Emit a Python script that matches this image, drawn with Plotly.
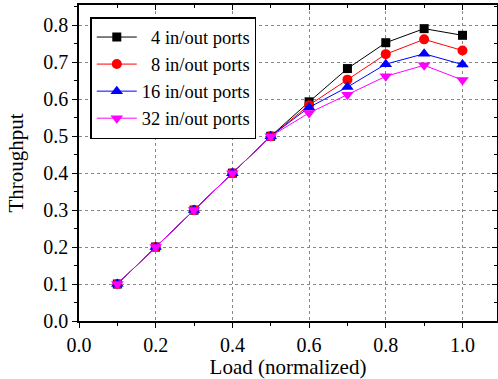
import plotly.graph_objects as go

load = [0.1, 0.2, 0.3, 0.4, 0.5, 0.6, 0.7, 0.8, 0.9, 1.0]
ports4 = [0.1, 0.2, 0.3, 0.4, 0.5, 0.593, 0.683, 0.753, 0.791, 0.773]
ports8 = [0.1, 0.2, 0.3, 0.4, 0.5, 0.584, 0.653, 0.722, 0.762, 0.732]
ports16 = [0.1, 0.2, 0.3, 0.4, 0.5, 0.578, 0.633, 0.695, 0.723, 0.694]
ports32 = [0.1, 0.2, 0.3, 0.4, 0.5, 0.563, 0.612, 0.662, 0.692, 0.652]
names = ["\u20024 in/out ports", "\u20028 in/out ports", "16 in/out ports", "32 in/out ports"]

series = [ports4, ports8, ports16, ports32]
colors = ["#000000", "#ff0000", "#0000ff", "#ff00ff"]
symbols = ["square", "circle", "triangle-up", "triangle-down"]
sizes = [9, 10, 11, 11]

FONT = "Liberation Serif, Times New Roman, serif"
fig = go.Figure()
for vals, nm, c, s, sz in zip(series, names, colors, symbols, sizes):
    fig.add_trace(go.Scatter(x=load, y=vals, name=nm, mode="lines+markers",
                             line=dict(color=c, width=1),
                             marker=dict(color=c, symbol=s, size=sz, line=dict(width=0))))

# invisible trace to host top/right mirrored axes
fig.add_trace(go.Scatter(x=[0.1], y=[0.1], xaxis="x2", yaxis="y2", mode="markers",
                         marker=dict(opacity=0), showlegend=False, hoverinfo="skip"))

XR = [0, 1.09]
YR = [0, 0.855]
fig.update_layout(
    template="none",
    width=498, height=379,
    margin=dict(l=79, r=1, t=5, b=58, autoexpand=False),
    paper_bgcolor="white", plot_bgcolor="white",
    font=dict(family=FONT, size=20, color="black"),
    showlegend=True,
    legend=dict(x=0.027, y=0.962, xanchor="left", yanchor="top",
                bordercolor="black", borderwidth=1.5, bgcolor="white",
                font=dict(family=FONT, size=18.5, color="black"), tracegroupgap=0,
                itemwidth=40),
    xaxis=dict(range=XR, dtick=0.2, tick0=0, tickformat=".1f", automargin=False,
               showline=True, linecolor="black", linewidth=1.5,
               ticks="outside", ticklen=5, tickcolor="black",
               tickfont=dict(family=FONT, size=20, color="black"),
               minor=dict(dtick=0.1, ticks="outside", ticklen=3, tickcolor="black"),
               showgrid=True, gridcolor="#888888", griddash="dot", gridwidth=1,
               zeroline=False,
               title=dict(text="Load (normalized)", font=dict(family=FONT, size=21, color="black"), standoff=5)),
    yaxis=dict(range=YR, dtick=0.1, tick0=0, tickformat=".1f", automargin=False,
               showline=True, linecolor="black", linewidth=1.5,
               ticks="outside", ticklen=5, tickcolor="black",
               tickfont=dict(family=FONT, size=20, color="black"),
               minor=dict(dtick=0.05, ticks="outside", ticklen=3, tickcolor="black"),
               showgrid=True, gridcolor="#888888", griddash="dot", gridwidth=1,
               zeroline=False,
               title=dict(text="Throughput", font=dict(family=FONT, size=21, color="black"), standoff=14)),
    xaxis2=dict(range=XR, overlaying="x", side="top", dtick=0.2, tick0=0, automargin=False,
                showline=True, linecolor="black", linewidth=1.5,
                ticks="inside", ticklen=5, tickcolor="black",
                minor=dict(dtick=0.1, ticks="inside", ticklen=3, tickcolor="black"),
                showticklabels=False, showgrid=False, zeroline=False),
    yaxis2=dict(range=YR, overlaying="y", side="right", dtick=0.1, tick0=0, automargin=False,
                showline=True, linecolor="black", linewidth=1.5,
                ticks="inside", ticklen=5, tickcolor="black",
                minor=dict(dtick=0.05, ticks="inside", ticklen=3, tickcolor="black"),
                showticklabels=False, showgrid=False, zeroline=False),
)
fig.write_html("out.html", config={"displayModeBar": False},
               post_script="document.body.style.margin='0';document.body.style.padding='0';")
